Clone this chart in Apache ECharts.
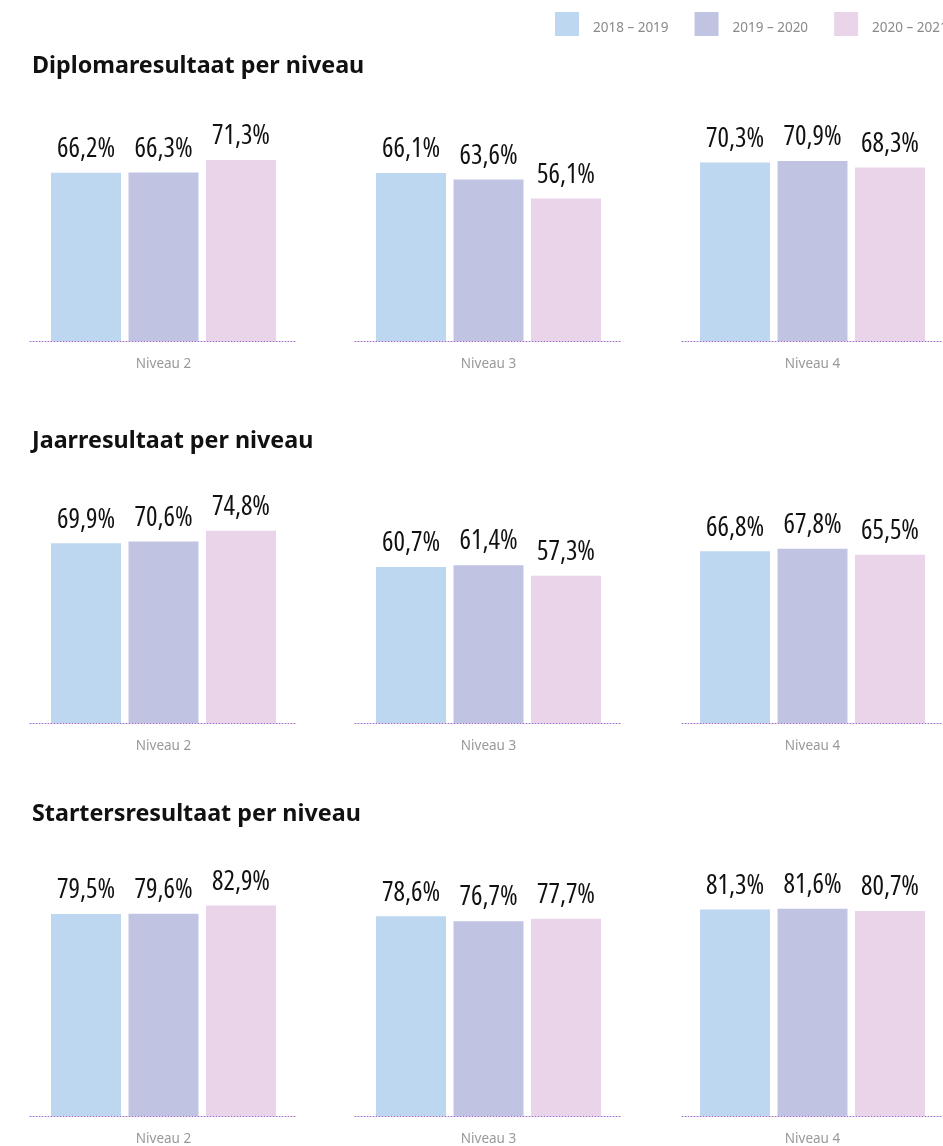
<!DOCTYPE html>
<html>
<head>
<meta charset="utf-8">
<script src="https://cdn.jsdelivr.net/npm/echarts@6/dist/echarts.min.js"></script>
<style>
html,body{margin:0;padding:0;background:#fff;}
#chart{width:943px;height:1146px;}
</style>
</head>
<body>
<div id="chart"></div>
<script>
// ---- data ----
const years = ['2018 – 2019', '2019 – 2020', '2020 – 2021'];
const niveaus = ['Niveau 2', 'Niveau 3', 'Niveau 4'];
const sectionTitles = ['Diplomaresultaat per niveau', 'Jaarresultaat per niveau', 'Startersresultaat per niveau'];
// values per niveau: [2018-2019, 2019-2020, 2020-2021]
const diplomaresultaat = [[66.2, 66.3, 71.3], [66.1, 63.6, 56.1], [70.3, 70.9, 68.3]];
const jaarresultaat = [[69.9, 70.6, 74.8], [60.7, 61.4, 57.3], [66.8, 67.8, 65.5]];
const startersresultaat = [[79.5, 79.6, 82.9], [78.6, 76.7, 77.7], [81.3, 81.6, 80.7]];
const sections = [diplomaresultaat, jaarresultaat, startersresultaat];

// ---- style / layout ----
const colors = ['#bdd7f0', '#c1c3e3', '#e9d4ea'];
const colLeft = [30, 355, 682];
const colRight = [646, 321, 0];
const rowTop = [87, 466, 862];
const rowHeight = [254, 257, 256];
const titleTop = [55, 430, 803];

const grids = [], xAxes = [], yAxes = [], series = [], titles = [];
sections.forEach((sec, r) => {
  titles.push({
    text: sectionTitles[r], left: 32, top: titleTop[r], padding: 0,
    textStyle: { fontFamily: 'Noto Sans', fontWeight: 'bold', fontSize: 23.3, color: '#111' }
  });
  sec.forEach((vals, c) => {
    const gi = grids.length;
    grids.push({ left: colLeft[c], right: colRight[c], top: rowTop[r], height: rowHeight[r], containLabel: false });
    xAxes.push({
      type: 'category', gridIndex: gi, data: [niveaus[c]], z: 5,
      axisTick: { show: false },
      axisLine: { show: true, lineStyle: { color: '#a06cc8', type: [1, 2], width: 1 } },
      axisLabel: { color: '#999', fontSize: 13.5, fontFamily: 'Noto Sans', margin: 16 }
    });
    yAxes.push({ type: 'value', gridIndex: gi, min: 0, max: 100, show: false, splitLine: { show: false } });
    vals.forEach((v, s) => {
      series.push({
        type: 'bar', name: years[s], xAxisIndex: gi, yAxisIndex: gi,
        data: [v], barWidth: 70, barGap: '10.7%',
        itemStyle: { color: colors[s] },
        label: {
          show: true, position: 'top', distance: 10,
          fontFamily: 'Open Sans', fontStyle: 'condensed', fontWeight: 500, fontSize: 27, color: '#111',
          formatter: p => p.value.toFixed(1).replace('.', ',') + '%'
        },
        emphasis: { disabled: true }
      });
    });
  });
});

const chart = echarts.init(document.getElementById('chart'));
chart.setOption({
  animation: false,
  color: colors,
  title: titles,
  legend: {
    data: years, left: 555, top: 12, width: 600, padding: 0,
    itemWidth: 24, itemHeight: 24, itemGap: 26, icon: 'rect',
    formatter: '{t|{name}}',
    textStyle: {
      color: '#8a8a8a', fontSize: 13.5, fontFamily: 'Noto Sans',
      rich: { t: { color: '#8a8a8a', fontSize: 13.5, fontFamily: 'Noto Sans', padding: [8, 0, 0, 9] } }
    },
    selectedMode: false
  },
  grid: grids, xAxis: xAxes, yAxis: yAxes, series: series
});
</script>
</body>
</html>
